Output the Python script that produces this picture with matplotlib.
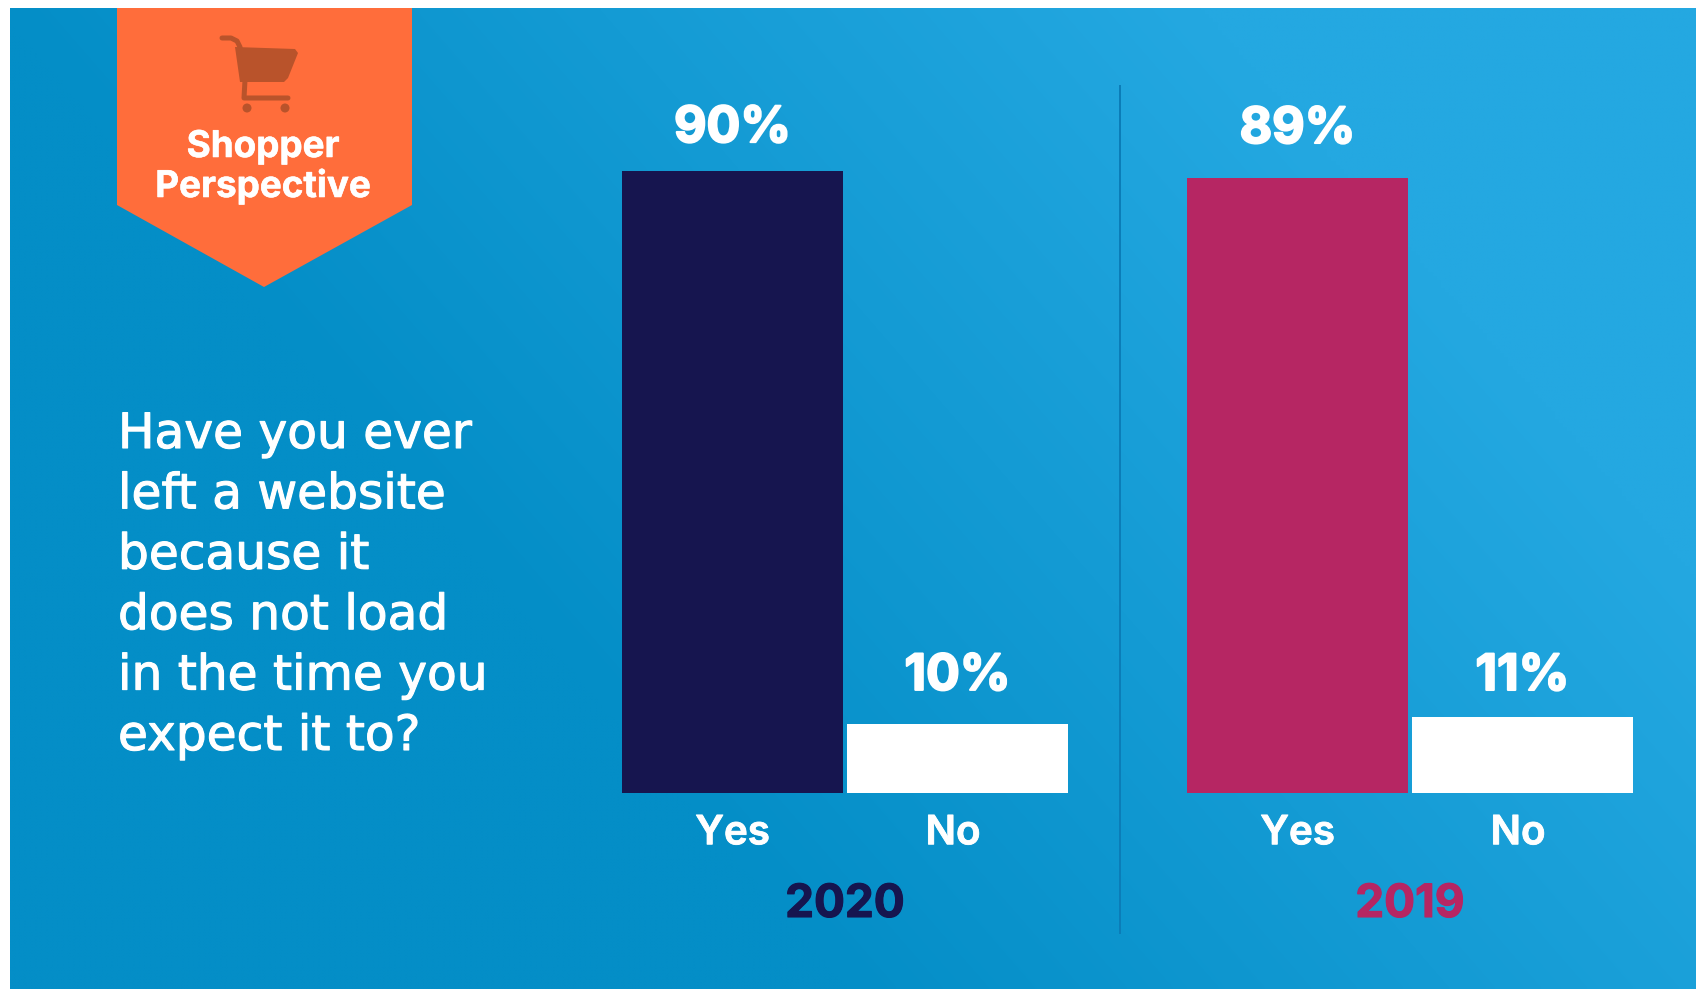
import numpy as np
import matplotlib
matplotlib.use("Agg")
import matplotlib.pyplot as plt
import matplotlib.patheffects as pe
from matplotlib.patches import Polygon, Circle

plt.rcParams['font.family'] = ['Inter', 'DejaVu Sans']

years = ["2020", "2019"]
categories = ["Yes", "No"]
values_2020 = [90, 10]
values_2019 = [89, 11]
value_labels_2020 = ["90%", "10%"]
value_labels_2019 = ["89%", "11%"]
question = ["Have you ever", "left a website", "because it", "does not load", "in the time you", "expect it to?"]
badge_lines = ["Shopper", "Perspective"]

W, H = 1708, 1000
PT = 72 / 100  # points per pixel at dpi 100

fig = plt.figure(figsize=(W / 100, H / 100), dpi=100, facecolor="white")

# background layer works in plain pixels, y going down
bg = fig.add_axes([0, 0, 1, 1])
bg.set_xlim(0, W)
bg.set_ylim(H, 0)
bg.axis("off")

# diagonal blue gradient
xx, yy = np.meshgrid(np.linspace(10, 1696, 400), np.linspace(8, 989, 240))
t = ((xx - 600) * 0.75 + (700 - yy) * 0.65) / 900
t = np.clip(t, 0, 1)
dark = np.array([0x04, 0x8E, 0xC7]) / 255
light = np.array([0x24, 0xA8, 0xE1]) / 255
grad = dark + (light - dark) * t[..., None]
bg.imshow(grad, extent=(10, 1696, 989, 8), aspect="auto", interpolation="bilinear")
bg.set_xlim(0, W)
bg.set_ylim(H, 0)

# divider
bg.plot([1120.5, 1120.5], [85, 934], color="#0B7DB8", lw=2 * PT, solid_capstyle="butt")

# badge
bg.add_patch(Polygon([(117, 8), (412, 8), (412, 205), (264, 287), (117, 205)], closed=True, fc="#FF6D3B", ec="none"))

# cart icon
cart = "#B9532B"
bg.plot([222, 231, 237, 240, 245, 244, 288], [38, 38, 41, 47, 80, 98, 98], color=cart, lw=5 * PT,
        solid_capstyle="round", solid_joinstyle="round")
bg.add_patch(Polygon([(235, 47), (295, 49), (298, 53), (288, 78), (284, 82), (240, 82)], closed=True, fc=cart, ec="none"))
bg.add_patch(Circle((247, 108), 4.5, fc=cart, ec="none"))
bg.add_patch(Circle((285, 108), 4.5, fc=cart, ec="none"))

for line, yb in zip(badge_lines, [157, 197]):
    bg.text(263, yb, line, color="white", fontsize=26.5, fontweight="bold", ha="center", va="baseline",
            path_effects=[pe.withStroke(linewidth=0.4, foreground="white")])

for i, line in enumerate(question):
    bg.text(118, 448 + i * 60.4, line, color="white", fontsize=35, family="DejaVu Sans", ha="left", va="baseline",
            path_effects=[pe.withStroke(linewidth=0.8, foreground="white")])


def draw_panel(left, values, value_labels, year, bar_color, offsets):
    ax = fig.add_axes([left / W, (H - 793) / H, 450 / W, 691 / H])
    ax.patch.set_alpha(0)
    ax.bar([0, 1], values, width=0.982, color=[bar_color, "white"])
    ax.set_xlim(-0.5, 1.5)
    ax.set_ylim(0, 100)
    for s in ax.spines.values():
        s.set_visible(False)
    ax.set_yticks([])
    ax.set_xticks([0, 0.98])
    ax.set_xticklabels(categories, color="white", fontsize=29, fontweight="semibold")
    ax.tick_params(axis="x", length=0, pad=16)
    for lab in ax.get_xticklabels():
        lab.set_path_effects([pe.withStroke(linewidth=0.6, foreground="white")])
    for i, v in enumerate(values):
        ax.annotate(value_labels[i], xy=(i, v), xytext=(0, offsets[i] * PT), textcoords="offset points",
                    ha="center", va="baseline", color="white", fontsize=36, fontweight="bold",
                    path_effects=[pe.withStroke(linewidth=1.5, foreground="white")])
    ax.annotate(year, xy=(0.5, 0), xytext=(0, -124 * PT), textcoords="offset points",
                ha="center", va="baseline", color=bar_color, fontsize=33, fontweight="bold",
                path_effects=[pe.withStroke(linewidth=0.8, foreground=bar_color)])


draw_panel(620, values_2020, value_labels_2020, years[0], "#16154F", [29, 34])
draw_panel(1185, values_2019, value_labels_2019, years[1], "#B62663", [35, 27])

fig.savefig("out.png", dpi=100)
